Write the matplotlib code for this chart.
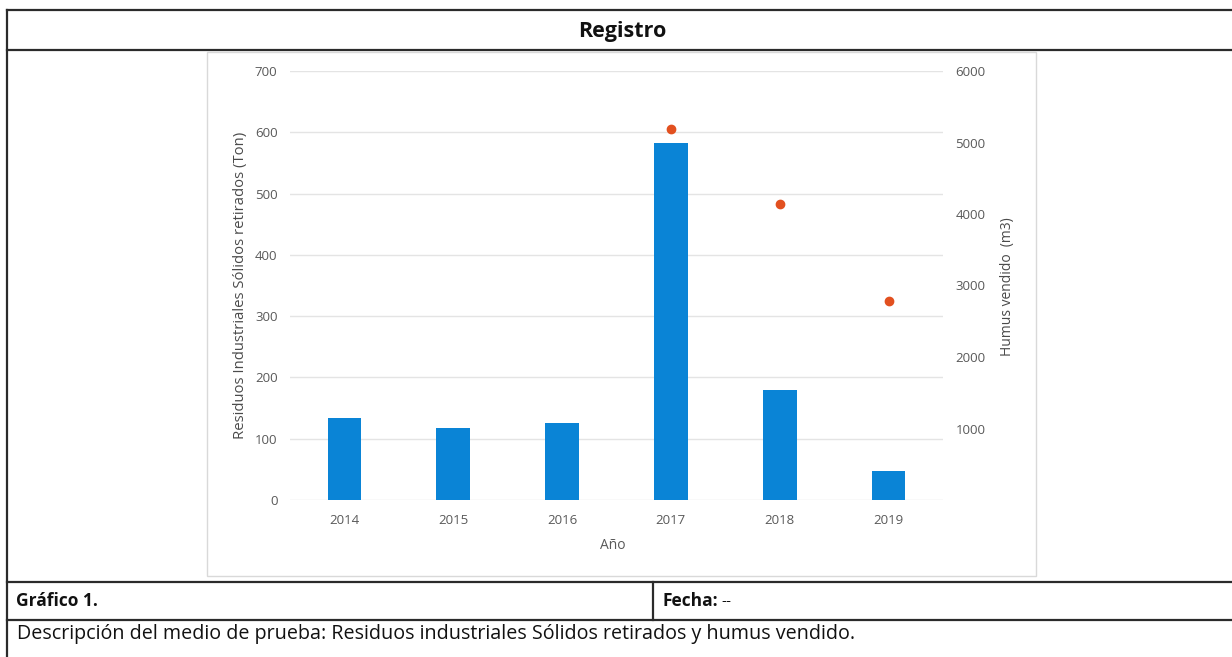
import matplotlib
matplotlib.use("Agg")
import matplotlib.pyplot as plt
from matplotlib.patches import Rectangle
from matplotlib.lines import Line2D

plt.rcParams['font.family'] = ['Open Sans', 'DejaVu Sans']

# Data
years = ["2014", "2015", "2016", "2017", "2018", "2019"]
residuos_ton = [133, 117, 125, 582, 180, 47]
humus_years = ["2017", "2018", "2019"]
humus_m3 = [5190, 4145, 2780]
left_ticks = [0, 100, 200, 300, 400, 500, 600, 700]
right_ticks = [1000, 2000, 3000, 4000, 5000, 6000]

W, H = 1232, 657
fig = plt.figure(figsize=(W / 100, H / 100), dpi=100)
fig.patch.set_facecolor("white")

# Page layer in pixel coordinates: table frame and captions
page = fig.add_axes([0, 0, 1, 1], zorder=0)
page.set_xlim(0, W)
page.set_ylim(H, 0)
page.axis("off")

line_kw = dict(color="#2b2b2b", linewidth=1.6)
for y in (10, 50, 582, 620):
    page.add_line(Line2D([7, W], [y, y], **line_kw))
page.add_line(Line2D([7, 7], [10, H], **line_kw))
page.add_line(Line2D([653, 653], [582, 620], **line_kw))

# Chart area frame
page.add_patch(Rectangle((207, 52), 829, 524, facecolor="white",
                         edgecolor="#d9d9d9", linewidth=1.0))

page.text(622, 31, "Registro", ha="center", va="center",
          fontsize=15.5, fontweight="bold", color="#111111")
page.text(16, 601, "Gráfico 1.", ha="left", va="center",
          fontsize=12.5, fontweight="bold", color="#111111")
page.text(663, 601, "Fecha:", ha="left", va="center",
          fontsize=12.5, fontweight="bold", color="#111111")
page.text(721, 601, "--", ha="left", va="center",
          fontsize=11, color="#111111")
page.text(17, 634,
          "Descripción del medio de prueba: Residuos industriales Sólidos retirados y humus vendido.",
          ha="left", va="center", fontsize=14.2, color="#111111")

# Chart axes
x0, x1, ytop, ybot = 290, 943, 71, 500
ax = fig.add_axes([x0 / W, (H - ybot) / H, (x1 - x0) / W, (ybot - ytop) / H], zorder=1)
ax.patch.set_alpha(0)
xpos = list(range(len(years)))
ax.bar(xpos, residuos_ton, width=0.31, color="#0a84d6", zorder=3)
ax.set_xlim(-0.5, len(years) - 0.5)
ax.set_ylim(0, 700)
ax.set_yticks(left_ticks)
ax.set_xticks(xpos)
ax.set_xticklabels(years)
ax.grid(axis="y", color="#e4e4e4", linewidth=1.0, zorder=0)
ax.set_axisbelow(True)
for s in ax.spines.values():
    s.set_visible(False)
ax.tick_params(axis="both", length=0, colors="#595959", labelsize=9.5)
ax.tick_params(axis="y", pad=9)
ax.tick_params(axis="x", pad=10)
ax.set_ylabel("Residuos Industriales Sólidos retirados (Ton)", fontsize=10.7, color="#4a4a4a")
ax.yaxis.set_label_coords(-0.064, 0.5)
ax.set_xlabel("Año", fontsize=10, color="#595959")
ax.xaxis.set_label_coords(0.494, -0.089)

ax2 = ax.twinx()
hx = [years.index(y) for y in humus_years]
ax2.plot(hx, humus_m3, linestyle="none", marker="o", markersize=6,
         color="#e2501f", zorder=4)
ax2.set_ylim(0, 6000)
ax2.set_yticks(right_ticks)
for s in ax2.spines.values():
    s.set_visible(False)
ax2.tick_params(axis="y", length=0, colors="#595959", labelsize=9.5, pad=9)
ax2.set_ylabel("Humus vendido  (m3)", fontsize=10, color="#4a4a4a")
ax2.yaxis.set_label_coords(1.088, 0.497)

fig.savefig("out.png", dpi=100, facecolor="white")
